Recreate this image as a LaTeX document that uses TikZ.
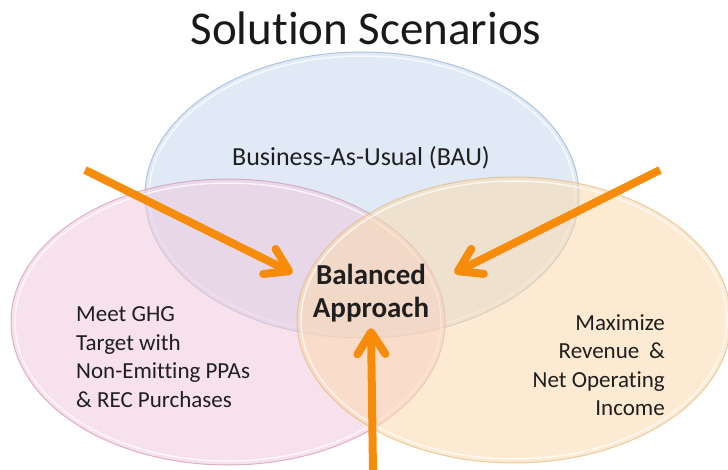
\documentclass[tikz,border=0pt]{standalone}
\usepackage{fontspec}
\setmainfont{Carlito}[Ligatures=NoCommon]
\usepackage{tikz}
\usetikzlibrary{positioning}
\usetikzlibrary{shapes.geometric}
\usetikzlibrary{arrows.meta}

\definecolor{baublue}{RGB}{198,217,241}
\definecolor{baurim}{RGB}{150,175,205}
\definecolor{ghgpink}{RGB}{239,200,220}
\definecolor{ghgrim}{RGB}{205,150,180}
\definecolor{revgold}{RGB}{251,217,173}
\definecolor{revrim}{RGB}{225,185,130}
\definecolor{pointer}{RGB}{247,140,10}

\begin{document}
\begin{tikzpicture}[x=1pt,y=1pt,
  scenario/.style={ellipse,minimum width=434pt,minimum height=286pt,
    fill opacity=0.55,draw opacity=0.7,line width=1pt},
  gloss/.style={white,line width=1.5pt,opacity=0.7},
  label/.style={font=\fontsize{23}{28.5}\selectfont,text=black!88,inner sep=0pt},
  pointer/.style={draw=pointer,line width=8pt,
    -{Straight Barb[length=22pt,width=28pt,round]}}]
\useasboundingbox (0,0) rectangle (728,-470);

\node[font=\fontsize{47}{50}\selectfont,text=black!90] (title) at (366,-28) {Solution Scenarios};

% the three scenarios
\node[scenario,fill=baublue,draw=baurim] (bau) at (362,-195) {};
\draw[gloss] (bau.center) ellipse [x radius=213,y radius=139];
\node[scenario,fill=ghgpink,draw=ghgrim] (ghg) at (228,-322) {};
\draw[gloss] (ghg.center) ellipse [x radius=213,y radius=139];
\node[scenario,fill=revgold,draw=revrim] (rev) at (514,-320) {};
\draw[gloss] (rev.center) ellipse [x radius=213,y radius=139];

\node[label,font=\fontsize{26}{30}\selectfont] (baulabel) at (361,-158) {Business-As-Usual (BAU)};
\node[label,align=left,anchor=west] (ghglabel) at (76,-357)
  {Meet GHG\\Target with\\Non-Emitting PPAs\\\& REC Purchases};
\node[label,align=right,anchor=east] (revlabel) at (665,-365)
  {Maximize\\Revenue\hspace{0.2em} \&\\Net Operating\\Income};
\node[label,font=\bfseries\fontsize{29}{33}\selectfont,align=center,inner sep=2pt]
  (balanced) at (371,-293) {Balanced\\Approach};

% arrows into the middle
\coordinate (nw) at (85,-170);
\coordinate (ne) at (660,-170);
\coordinate (s) at (373,-472);
\coordinate[above left=20pt and 18pt of balanced.west] (nwend);
\coordinate[above right=20pt and 23pt of balanced.east] (neend);
\coordinate[below=4pt of balanced.south] (send);
\draw[pointer] (nw) -- (nwend);
\draw[pointer] (ne) -- (neend);
\draw[pointer] (s) -- (send);
\end{tikzpicture}
\end{document}
